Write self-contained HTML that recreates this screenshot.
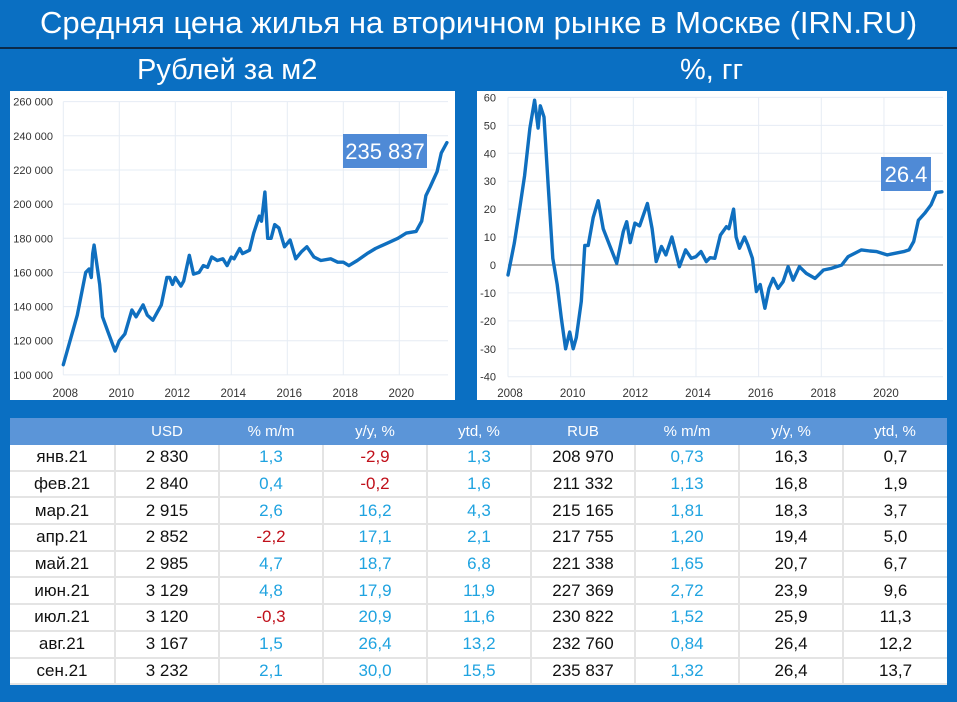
<!DOCTYPE html>
<html><head><meta charset="utf-8"><style>
body{margin:0;width:957px;height:702px;background:#0a6fc2;font-family:"Liberation Sans","DejaVu Sans",sans-serif;position:relative;overflow:hidden}
.t{position:absolute;color:#fff;white-space:nowrap;font-family:"Liberation Sans Narrow","Liberation Sans",sans-serif}
table{position:absolute;left:10px;top:418px;width:937px;border-collapse:collapse;background:#fff;table-layout:fixed}
td,th{text-align:center;font-size:17px;height:24.7px;line-height:20px;padding:0;border-left:2px solid #e4e4e4;border-bottom:2px solid #e4e4e4}
th{background:#5b95d8;color:#fff;font-weight:normal;font-size:15px;height:27px;border:none}
td.c{color:#1fa3e0}td.r{color:#c0101a}td.k{color:#111}
</style></head><body>
<div class="t" style="left:0;width:957px;text-align:center;top:5px;font-size:31px">Средняя цена жилья на вторичном рынке в Москве (IRN.RU)</div>
<div style="position:absolute;left:0;top:47px;width:957px;height:2px;background:#0b2a4a"></div>
<div class="t" style="left:137px;top:54px;font-size:29px">Рублей за м2</div>
<div class="t" style="left:680px;top:54px;font-size:29px">%, гг</div>
<svg id="c1" style="position:absolute;left:0;top:0" width="957" height="702"></svg>
<table>
<colgroup><col style="width:105px"><col span="8"></colgroup>
<tr><th></th><th>USD</th><th>% m/m</th><th>y/y, %</th><th>ytd, %</th><th>RUB</th><th>% m/m</th><th>y/y, %</th><th>ytd, %</th></tr>
<tbody id="tb"></tbody></table>
<script>
const NS="http://www.w3.org/2000/svg";
const priceYears=[2008.0,2008.5,2008.8,2008.92,2009.0,2009.05,2009.1,2009.3,2009.4,2009.6,2009.85,2010.0,2010.2,2010.45,2010.6,2010.85,2011.0,2011.2,2011.5,2011.7,2011.8,2011.9,2012.0,2012.2,2012.3,2012.5,2012.65,2012.85,2013.0,2013.15,2013.3,2013.5,2013.7,2013.85,2014.0,2014.1,2014.3,2014.4,2014.65,2014.8,2015.0,2015.08,2015.2,2015.3,2015.42,2015.55,2015.7,2015.9,2016.1,2016.3,2016.5,2016.7,2016.95,2017.2,2017.55,2017.8,2018.0,2018.2,2018.5,2018.85,2019.15,2019.55,2019.95,2020.25,2020.6,2020.8,2020.95,2021.1,2021.35,2021.5,2021.7];
const priceValues=[106,135,160,162,157,171,176,153,134,125,114,120,124,138,134,141,135,132,141,157,157,153,157,152,155,170,159,160,164,163,169,167,168,164,169,168,174,171,173,183,193,190,207,180,180,188,186,175,179,168,172,175,169,167,168,166,166,164,167,171,174,177,180,183,184,190,205,210,219,230,236];
const priceTicks=[100,120,140,160,180,200,220,240,260];
const yearTicks=[2008,2010,2012,2014,2016,2018,2020];
const yoyYears=[2008.0,2008.2,2008.37,2008.53,2008.7,2008.85,2008.96,2009.03,2009.15,2009.28,2009.43,2009.57,2009.7,2009.84,2009.97,2010.08,2010.18,2010.34,2010.45,2010.56,2010.72,2010.88,2011.04,2011.26,2011.47,2011.68,2011.79,2011.9,2012.05,2012.2,2012.45,2012.6,2012.73,2012.9,2013.04,2013.23,2013.47,2013.67,2013.85,2014.0,2014.16,2014.33,2014.45,2014.6,2014.78,2014.97,2015.05,2015.2,2015.28,2015.39,2015.55,2015.66,2015.8,2015.93,2016.05,2016.2,2016.33,2016.46,2016.62,2016.78,2016.94,2017.1,2017.3,2017.52,2017.8,2018.07,2018.33,2018.65,2018.86,2019.07,2019.28,2019.55,2019.77,2020.1,2020.37,2020.63,2020.8,2020.95,2021.1,2021.3,2021.5,2021.67,2021.85];
const yoyValues=[-3.6,7.8,20,32,49,59,49,57,53,29,2.4,-7,-19,-30,-24,-30,-26,-13,7,7,17,23,13,6.6,0.6,12,15.5,8,15,14,22,13,1.2,6.6,3.6,10,-0.6,5.4,2.4,3,4.8,1.2,2.6,2.4,10.7,13.7,13,20,10,6,10,7,2.4,-9.5,-7,-15.5,-8.4,-4.8,-8.4,-6,-0.6,-5.4,-0.6,-3,-4.8,-1.8,-1.2,0,3,4.2,5.4,5,4.8,3.6,4.2,4.8,5.4,8.4,16,18.5,21.5,26,26.2];
const yoyTicks=[-40,-30,-20,-10,0,10,20,30,40,50,60];
const rowLabels=["янв.21","фев.21","мар.21","апр.21","май.21","июн.21","июл.21","авг.21","сен.21"];
const usd=["2 830","2 840","2 915","2 852","2 985","3 129","3 120","3 167","3 232"];
const usdMm=["1,3","0,4","2,6","-2,2","4,7","4,8","-0,3","1,5","2,1"];
const usdYy=["-2,9","-0,2","16,2","17,1","18,7","17,9","20,9","26,4","30,0"];
const usdYtd=["1,3","1,6","4,3","2,1","6,8","11,9","11,6","13,2","15,5"];
const rub=["208 970","211 332","215 165","217 755","221 338","227 369","230 822","232 760","235 837"];
const rubMm=["0,73","1,13","1,81","1,20","1,65","2,72","1,52","0,84","1,32"];
const rubYy=["16,3","16,8","18,3","19,4","20,7","23,9","25,9","26,4","26,4"];
const rubYtd=["0,7","1,9","3,7","5,0","6,7","9,6","11,3","12,2","13,7"];

const svg=document.getElementById('c1');
function mk(tag,attrs,parent){const e=document.createElementNS(NS,tag);for(const k in attrs)e.setAttribute(k,attrs[k]);(parent||svg).appendChild(e);return e;}
const p1=mk('rect',{x:10,y:91,width:445,height:309,fill:'#fff'});


const p2=mk('rect',{x:477,y:91,width:470,height:309,fill:'#fff'});



function chart(o){
  const xs=y=>o.x0+(y-2008)*o.xs, ys=v=>o.y0-(v-o.vmin)*o.vs;
  o.yt.forEach(v=>{
    const g=mk('line',{x1:o.x0,x2:o.xr,y1:ys(v),y2:ys(v),stroke:'#e6ecf4','stroke-width':1});
    
    
    const t=mk('text',{x:o.lx,y:ys(v)+4,'text-anchor':'end','font-size':11,fill:'#333','font-family':'Liberation Sans, sans-serif'});
    t.textContent=o.fmt(v);
    
    
  });
  yearTicks.forEach(yr=>{
    const g=mk('line',{x1:xs(yr),x2:xs(yr),y1:ys(o.vmax),y2:ys(o.vmin),stroke:'#e6ecf4','stroke-width':1});
    
    
    const t=mk('text',{x:xs(yr)+2,y:397,'text-anchor':'middle','font-size':11.5,fill:'#333','font-family':'Liberation Sans, sans-serif'});
    t.textContent=yr;
    
    
  });
  if(o.zero){const z=mk('line',{x1:o.x0,x2:o.xr,y1:ys(0),y2:ys(0),stroke:'#666','stroke-width':1});
    
    }
  const d=o.xv.map((y,i)=>(i?'L':'M')+xs(y).toFixed(1)+','+ys(o.yv[i]).toFixed(1)).join('');
  const l=mk('path',{d:d,fill:'none',stroke:'#0f6fbf','stroke-width':3.4,'stroke-linejoin':'round','stroke-linecap':'round'});
  
  
  const b=mk('rect',{x:o.bx,y:o.by,width:o.bw,height:34,fill:'#4f8ad6'});
  
  
  const bt=mk('text',{x:o.bx+o.bw/2,y:o.by+25,'text-anchor':'middle','font-size':22,fill:'#fff','font-family':'Liberation Sans, sans-serif'});
  bt.textContent=o.label;
  
  
}
chart({x0:63.3,xs:28,xr:448,y0:374.9,vmin:100,vmax:260,vs:1.708,yt:priceTicks,lx:53,fmt:v=>v+' 000',xv:priceYears,yv:priceValues,name:'price-line',bx:343,by:134,bw:84,label:'235 837'});
chart({x0:508,xs:31.33,xr:943,y0:376.7,vmin:-40,vmax:60,vs:2.793,yt:yoyTicks,lx:496,fmt:v=>String(v),xv:yoyYears,yv:yoyValues,name:'yoy-line',zero:true,bx:881,by:157,bw:50,label:'26.4'});

const tb=document.getElementById('tb');
const cols=[usd,usdMm,usdYy,usdYtd,rub,rubMm,rubYy,rubYtd];
const colour=[0,1,1,1,0,1,0,0];
rowLabels.forEach((lab,i)=>{
  const tr=document.createElement('tr');
  
  
  const td=document.createElement('td');td.className='k';td.textContent=lab;td.style.borderLeft='none';
  
  
  tr.appendChild(td);
  cols.forEach((c,j)=>{
    const cell=document.createElement('td');
    cell.textContent=c[i];
    cell.className=colour[j]?(c[i][0]==='-'?'r':'c'):'k';
    
    
    tr.appendChild(cell);
  });
  tb.appendChild(tr);
});
</script>
</body></html>
